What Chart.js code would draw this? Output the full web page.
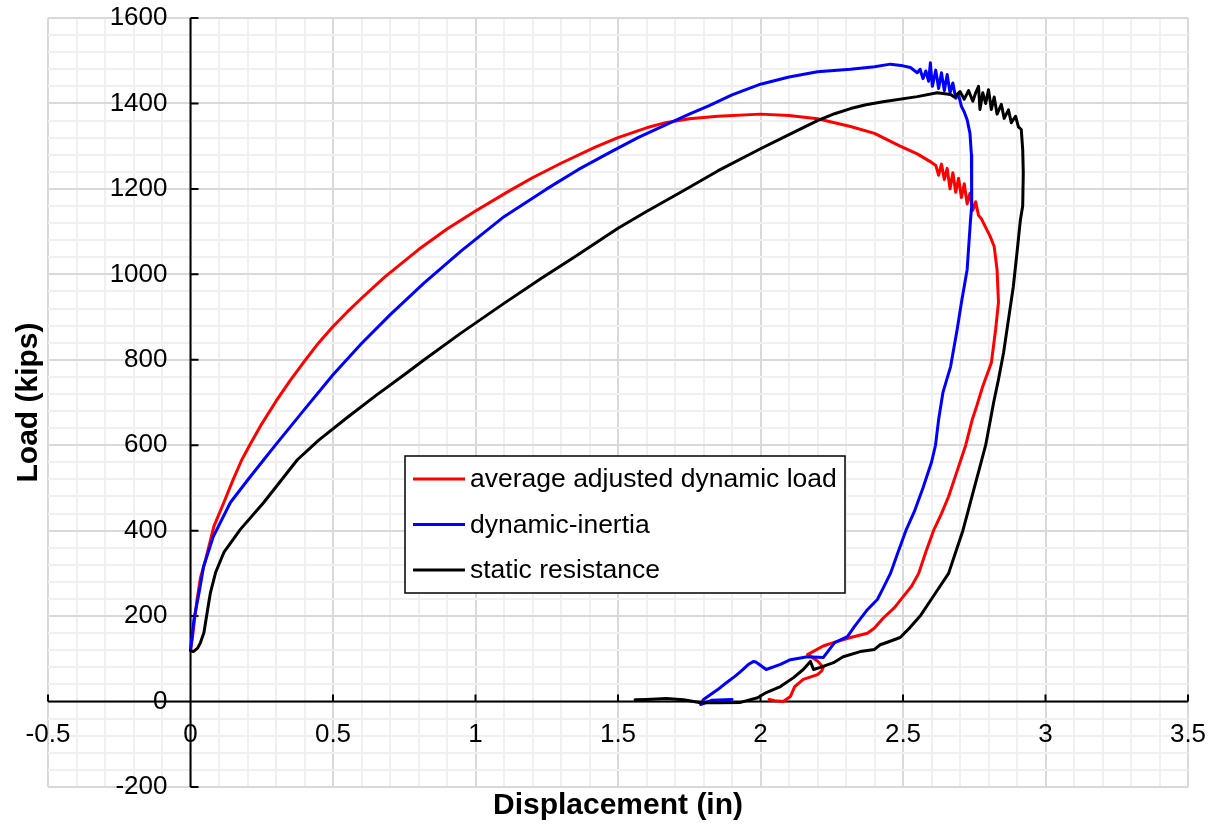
<!DOCTYPE html>
<html>
<head>
<meta charset="utf-8">
<script src="https://cdn.jsdelivr.net/npm/chart.js@4.4.1/dist/chart.umd.min.js"></script>
<style>
    body { margin: 0; background: #ffffff; }
    canvas { display: block; }
</style>
</head>
<body>
<canvas id="loadChart" width="1218" height="826"></canvas>
<script>
// tick labels and series names
const xTickLabels = [-0.5, 0, 0.5, 1, 1.5, 2, 2.5, 3, 3.5];
const yTickLabels = [-200, 0, 200, 400, 600, 800, 1000, 1200, 1400, 1600];
const seriesNames = ["average adjusted dynamic load", "dynamic-inertia", "static resistance"];
const seriesColors = ["#ff0000", "#0000ff", "#000000"];

// average adjusted dynamic load
const redDisp = [0, 0.006, 0.014, 0.023, 0.035, 0.053, 0.082, 0.117, 0.15, 0.18, 0.21, 0.25, 0.3, 0.35, 0.4, 0.45, 0.5, 0.55, 0.6, 0.68, 0.8, 0.9, 1.0, 1.12, 1.2, 1.3, 1.42, 1.5, 1.6, 1.667, 1.75, 1.85, 2.0, 2.1, 2.2, 2.316, 2.4, 2.49, 2.55, 2.6,
    2.615, 2.625, 2.635, 2.645, 2.655, 2.665, 2.675, 2.685, 2.695, 2.705, 2.715, 2.725, 2.735, 2.745, 2.755, 2.765, 2.775, 2.79, 2.805,
    2.82, 2.83, 2.835, 2.825, 2.81, 2.78, 2.755, 2.743, 2.72, 2.69, 2.66, 2.635, 2.607, 2.58, 2.555, 2.53, 2.5, 2.47, 2.43, 2.4, 2.375, 2.316, 2.256, 2.22, 2.165, 2.2, 2.22, 2.215, 2.2, 2.15, 2.12, 2.105, 2.08, 2.05, 2.03];
const redLoad = [120, 145, 190, 239, 290, 332, 410, 466, 520, 566, 603, 650, 703, 752, 797, 840, 878, 912, 944, 993, 1058, 1106, 1148, 1196, 1226, 1260, 1298, 1320, 1343, 1355, 1364, 1370, 1375, 1372, 1364, 1346, 1330, 1300, 1282, 1262,
    1255, 1232, 1258, 1222, 1248, 1200, 1238, 1192, 1225, 1180, 1212, 1165, 1190, 1150, 1170, 1138, 1130, 1110, 1090,
    1065, 1011, 934, 871, 793, 738, 684, 660, 600, 540, 480, 440, 400, 350, 300, 270, 245, 220, 195, 172, 160, 150, 138, 130, 110, 95, 80, 72, 63, 52, 35, 12, 0, 2, 5];

// dynamic-inertia
const blueDisp = [0, 0.012, 0.03, 0.046, 0.08, 0.14, 0.2, 0.257, 0.3, 0.4, 0.5, 0.6, 0.7, 0.82, 0.95, 1.1, 1.25, 1.36, 1.47, 1.57, 1.667, 1.75, 1.82, 1.9, 2.0, 2.1, 2.2, 2.316, 2.4, 2.456, 2.5, 2.526, 2.55,
    2.56, 2.57, 2.58, 2.59, 2.596, 2.603, 2.615, 2.625, 2.635, 2.645, 2.655, 2.665, 2.675, 2.685, 2.695, 2.705, 2.715, 2.725, 2.735, 2.74, 2.742,
    2.74, 2.737, 2.725, 2.705, 2.69, 2.667, 2.64, 2.625, 2.614, 2.6, 2.57, 2.54, 2.51, 2.48, 2.456, 2.43, 2.41, 2.375, 2.33, 2.305, 2.26, 2.22, 2.165, 2.105, 2.07, 2.02, 1.985, 1.976, 1.96, 1.93, 1.91, 1.88, 1.85, 1.82, 1.8, 1.79, 1.83, 1.9];
const blueLoad = [120, 192, 255, 316, 386, 466, 518, 566, 602, 684, 765, 838, 905, 980, 1055, 1135, 1200, 1245, 1285, 1320, 1350, 1375, 1395, 1420, 1445, 1462, 1474, 1480, 1486, 1492, 1488, 1484, 1472,
    1480, 1458, 1476, 1452, 1495, 1440, 1478, 1435, 1472, 1430, 1468, 1425, 1448, 1412, 1420, 1393, 1380, 1362, 1330, 1280, 1238,
    1159, 1128, 1011, 934, 871, 784, 723, 660, 600, 560, 500, 445, 400, 345, 300, 265, 239, 215, 176, 152, 138, 103, 105, 98, 87, 75, 92, 94, 88, 70, 59, 44, 28, 14, 5, -7, 3, 5];

// static resistance
const staticDisp = [0, 0.01, 0.025, 0.035, 0.047, 0.06, 0.07, 0.088, 0.117, 0.175, 0.257, 0.375, 0.45, 0.55, 0.65, 0.75, 0.82, 0.95, 1.1, 1.23, 1.35, 1.5, 1.6, 1.72, 1.85, 2.0, 2.1, 2.2, 2.26, 2.316, 2.37, 2.43, 2.55, 2.62, 2.667,
    2.68, 2.7, 2.715, 2.73, 2.745, 2.755, 2.765, 2.77, 2.78, 2.79, 2.8, 2.81, 2.82, 2.83, 2.845, 2.855, 2.87, 2.88, 2.895, 2.905, 2.915, 2.92, 2.922,
    2.92, 2.912, 2.9, 2.887, 2.87, 2.853, 2.835, 2.818, 2.807, 2.79, 2.77, 2.75, 2.73, 2.71, 2.685, 2.66, 2.61, 2.56, 2.52, 2.49, 2.45, 2.42, 2.4, 2.35, 2.29, 2.256, 2.21, 2.186, 2.175, 2.15, 2.116, 2.07, 2.02, 1.99, 1.93, 1.85, 1.79, 1.73, 1.67, 1.6, 1.56];
const staticLoad = [120, 117, 125, 138, 161, 215, 255, 302, 349, 403, 466, 566, 612, 665, 716, 765, 800, 863, 932, 990, 1042, 1108, 1147, 1192, 1242, 1294, 1327, 1360, 1376, 1388, 1397, 1404, 1416, 1425, 1421,
    1415, 1428, 1410, 1430, 1405, 1425, 1440, 1386, 1425, 1400, 1432, 1386, 1415, 1375, 1398, 1365, 1385, 1355, 1370, 1345, 1339, 1292, 1238,
    1160, 1128, 1051, 971, 894, 817, 754, 700, 660, 600, 550, 500, 450, 400, 350, 300, 250, 200, 170, 150, 140, 133, 122, 117, 105, 91, 80, 75, 94, 75, 56, 35, 21, 9, -2, -3, -3, 4, 7, 5, 4];

const FONT = "'Liberation Sans', Arial, sans-serif";

function toPoints(xs, ys) {
    return xs.map((x, i) => ({ x: x, y: ys[i] }));
}

function isMajor(value, step) {
    const r = value / step;
    return Math.abs(r - Math.round(r)) < 1e-6;
}

// axes crossing at zero, tick marks, tick labels
const zeroAxes = {
    id: 'zeroAxes',
    beforeDatasetsDraw(chart) {
        const ctx = chart.ctx;
        const xs = chart.scales.x;
        const ys = chart.scales.y;
        const x0 = xs.getPixelForValue(0);
        const y0 = ys.getPixelForValue(0);
        ctx.save();
        ctx.strokeStyle = '#000000';
        ctx.lineWidth = 2;
        ctx.beginPath();
        ctx.moveTo(xs.left, y0);
        ctx.lineTo(xs.right, y0);
        ctx.moveTo(x0, ys.top);
        ctx.lineTo(x0, ys.bottom);
        xTickLabels.forEach(v => {
            const px = xs.getPixelForValue(v);
            ctx.moveTo(px, y0);
            ctx.lineTo(px, y0 - 7);
        });
        yTickLabels.forEach(v => {
            const py = ys.getPixelForValue(v);
            ctx.moveTo(x0, py);
            ctx.lineTo(x0 + 8, py);
        });
        ctx.stroke();

        ctx.fillStyle = '#000000';
        ctx.font = "26px " + FONT;
        ctx.textBaseline = 'middle';
        ctx.textAlign = 'center';
        xTickLabels.forEach(v => {
            ctx.fillText(String(v), xs.getPixelForValue(v), y0 + 33);
        });
        ctx.textAlign = 'right';
        yTickLabels.forEach(v => {
            ctx.fillText(String(v), x0 - 23, ys.getPixelForValue(v));
        });
        ctx.restore();
    }
};

// legend box inside the plot
const boxLegend = {
    id: 'boxLegend',
    afterDraw(chart) {
        const ctx = chart.ctx;
        const left = 405, top = 456, w = 440, h = 137;
        ctx.save();
        ctx.fillStyle = '#ffffff';
        ctx.fillRect(left, top, w, h);
        ctx.strokeStyle = '#000000';
        ctx.lineWidth = 1.5;
        ctx.strokeRect(left, top, w, h);
        ctx.font = "26.5px " + FONT;
        ctx.textBaseline = 'middle';
        ctx.textAlign = 'left';
        seriesNames.forEach((name, i) => {
            const cy = top + 23 + i * 45.5;
            ctx.strokeStyle = seriesColors[i];
            ctx.lineWidth = 3;
            ctx.beginPath();
            ctx.moveTo(left + 8, cy);
            ctx.lineTo(left + 60, cy);
            ctx.stroke();
            ctx.fillStyle = '#000000';
            ctx.fillText(name, left + 65, cy + 1);
        });
        ctx.restore();
    }
};

const chart = document.getElementById('loadChart');

new Chart(chart, {
    type: 'line',
    data: {
        datasets: [
            {
                label: seriesNames[0],
                data: toPoints(redDisp, redLoad),
                borderColor: seriesColors[0],
                borderWidth: 3,
                pointRadius: 0,
                order: 2,
            },
            {
                label: seriesNames[1],
                data: toPoints(blueDisp, blueLoad),
                borderColor: seriesColors[1],
                borderWidth: 3,
                pointRadius: 0,
                order: 1,
            },
            {
                label: seriesNames[2],
                data: toPoints(staticDisp, staticLoad),
                borderColor: seriesColors[2],
                borderWidth: 3,
                pointRadius: 0,
                order: 0,
            },
        ]
    },
    options: {
        responsive: false,
        animation: false,
        events: [],
        layout: {
            padding: { left: 0, right: 30, top: 18, bottom: 0 }
        },
        elements: {
            line: { tension: 0, borderJoinStyle: 'round', borderCapStyle: 'round' }
        },
        scales: {
            x: {
                type: 'linear',
                min: -0.5,
                max: 3.5,
                ticks: { stepSize: 0.1, display: false },
                border: { display: false },
                grid: {
                    drawTicks: false,
                    lineWidth: 2,
                    color: (c) => isMajor(c.tick.value, 0.5) ? '#d9d9d9' : '#f0f0f0',
                },
                title: {
                    display: true,
                    text: 'Displacement (in)',
                    color: '#000000',
                    font: { family: FONT, size: 30, weight: 'bold' },
                    padding: { top: 0, bottom: 2 },
                },
                afterFit: (scale) => { scale.height = 39; },
            },
            y: {
                min: -200,
                max: 1600,
                ticks: { stepSize: 40, display: false },
                border: { display: false },
                grid: {
                    drawTicks: false,
                    lineWidth: 2,
                    color: (c) => isMajor(c.tick.value, 200) ? '#d9d9d9' : '#f0f0f0',
                },
                title: {
                    display: true,
                    text: 'Load (kips)',
                    color: '#000000',
                    font: { family: FONT, size: 30, weight: 'bold' },
                    padding: { top: 11, bottom: 0 },
                },
                afterFit: (scale) => { scale.width = 48; },
            },
        },
        plugins: {
            legend: { display: false },
            tooltip: { enabled: false },
        },
    },
    plugins: [zeroAxes, boxLegend],
});
</script>
</body>
</html>
